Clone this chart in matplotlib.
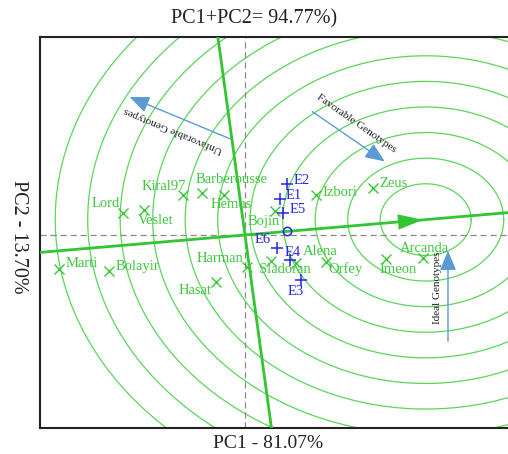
import numpy as np
import matplotlib
matplotlib.use('Agg')
import matplotlib.pyplot as plt

plt.rcParams['font.family'] = ['Liberation Serif', 'DejaVu Serif']

GREEN  = '#33c433'
RING   = '#5ad65a'
LABEL  = '#3cc83c'
BLUE   = '#2626e6'
ARROW  = '#5b9bd5'
GRAY   = '#8a8a8a'

# genotype scores (PC1, PC2) and label offsets (pixels)
genotypes = ['Lord', 'Veslet', 'Kiral97', 'Barberousse', 'Hemus', 'Bojin', 'Izbori', 'Zeus',
             'Marti', 'Bolayir', 'Harman', 'Hasat', 'Sladoran', 'Alena', 'Orfey', 'Imeon', 'Arcanda']
gen_pc1 = [-1.88, -1.55, -0.95, -0.66, -0.32, 0.46, 1.09, 1.97,
           -2.86, -2.09, 0.03, -0.45, 0.40, 0.79, 1.25, 2.17, 2.74]
gen_pc2 = [0.43, 0.49, 0.78, 0.82, 0.78, 0.47, 0.78, 0.92,
           -0.66, -0.70, -0.63, -0.92, -0.51, -0.55, -0.53, -0.47, -0.45]
gen_dx = [-17, 11, -19, 30, 7, -11, 24, 20, 23, 28, -27, -21, 14, 24, 19, 12, 1]
gen_dy = [9, -11, 9, 14, -9, -11, 3, 4, 5, 4, 9, -8, -8, 12, -7, -10, 10]

# environment scores
envs    = ['E1', 'E2', 'E3', 'E4', 'E5', 'E6']
env_pc1 = [0.54, 0.65, 0.86, 0.69, 0.58, 0.49]
env_pc2 = [0.70, 1.00, -0.88, -0.49, 0.43, -0.25]
env_dx  = [14, 14, -5, 3, 15, -14]
env_dy  = [4, 3, -11, 8, 3, 8]

# average environment and ideal genotype
avg_env = (0.65, 0.08)
ideal   = (2.78, 0.30)
ring_first = 0.70
ring_step  = 0.5
n_rings    = 11

fig = plt.figure(figsize=(5.08, 4.54), dpi=100)
ax = fig.add_axes([40 / 508, 1 - 428 / 454, 470 / 508, 391 / 454])
ax.set_xlim(-3.154, 4.077)
ax.set_ylim(-3.770, 3.867)

# concentric rings around ideal genotype
theta = np.linspace(0, 2 * np.pi, 500)
for k in range(n_rings):
    r = ring_first + ring_step * k
    ax.plot(ideal[0] + r * np.cos(theta), ideal[1] + r * np.sin(theta),
            color=RING, lw=0.9, zorder=1)

# origin dashed lines
ax.axvline(0, color=GRAY, lw=0.9, ls=(0, (5, 3)), zorder=2)
ax.axhline(0, color=GRAY, lw=0.9, ls=(0, (5, 3)), zorder=2)

# AEC abscissa and ordinate
u = np.array(ideal) / np.hypot(*ideal)
p = np.array([-u[1], u[0]])
t = np.array([-12, 12])
ax.plot(t * u[0], t * u[1], color=GREEN, lw=2.0, zorder=3)
ax.plot(t * p[0], t * p[1], color=GREEN, lw=2.0, zorder=3)
ax.annotate('', xy=(ideal[0], ideal[1]), xytext=(ideal[0] - 0.4 * u[0], ideal[1] - 0.4 * u[1]),
            arrowprops=dict(arrowstyle='-|>,head_length=1.8,head_width=0.55',
                            mutation_scale=10, color=GREEN, lw=0), zorder=4)

# genotypes
ax.plot(gen_pc1, gen_pc2, 'x', color=LABEL, ms=7, mew=1.0, zorder=5)
for name, x, y, dx, dy in zip(genotypes, gen_pc1, gen_pc2, gen_dx, gen_dy):
    ax.annotate(name, (x, y), xytext=(dx, dy), textcoords='offset pixels',
                ha='center', va='center', color=LABEL, fontsize=10.5, zorder=6)

# environments
ax.plot(env_pc1, env_pc2, '+', color=BLUE, ms=9, mew=1.1, zorder=5)
for name, x, y, dx, dy in zip(envs, env_pc1, env_pc2, env_dx, env_dy):
    ax.annotate(name, (x, y), xytext=(dx, dy), textcoords='offset pixels',
                ha='center', va='center', color=BLUE, fontsize=10.5, zorder=6)
ax.plot(*avg_env, 'o', mfc='none', mec=BLUE, ms=6, mew=1.1, zorder=5)

# annotation arrows
arrow_kw = dict(arrowstyle='-|>,head_length=1.2,head_width=0.5', mutation_scale=10,
                color=ARROW, lw=1.0)
ax.annotate('', xy=(-1.815, 2.715), xytext=(-0.185, 1.855), arrowprops=arrow_kw, zorder=4)
ax.annotate('', xy=(2.185, 1.406), xytext=(1.0, 2.441), arrowprops=arrow_kw, zorder=4)
ax.annotate('', xy=(3.123, -0.254), xytext=(3.123, -2.129), arrowprops=arrow_kw, zorder=4)
ax.text(-1.108, 2.051, 'Unfavorable Genotypes', rotation=157.5, rotation_mode='anchor',
        ha='center', va='center', fontsize=8, color='#222222')
ax.text(1.708, 2.168, 'Favorable Genotypes', rotation=-35, rotation_mode='anchor',
        ha='center', va='center', fontsize=8, color='#222222')
ax.text(2.954, -1.035, 'Ideal Genotypes', rotation=90, rotation_mode='anchor',
        ha='center', va='center', fontsize=8, color='#222222')

ax.set_xticks([])
ax.set_yticks([])
for sp in ax.spines.values():
    sp.set_linewidth(1.5)
    sp.set_color('#222222')

fig.text(254 / 508, 1 - 19 / 454, 'PC1+PC2= 94.77%)', ha='center', va='center',
         fontsize=14.5, color='#222222')
fig.text(268 / 508, 1 - 443 / 454, 'PC1 - 81.07%', ha='center', va='center',
         fontsize=14, color='#222222')
fig.text(18 / 508, 1 - 237 / 454, 'PC2 - 13.70%', ha='center', va='center',
         rotation=270, fontsize=14.5, color='#222222')

fig.savefig('out.png', dpi=100)
